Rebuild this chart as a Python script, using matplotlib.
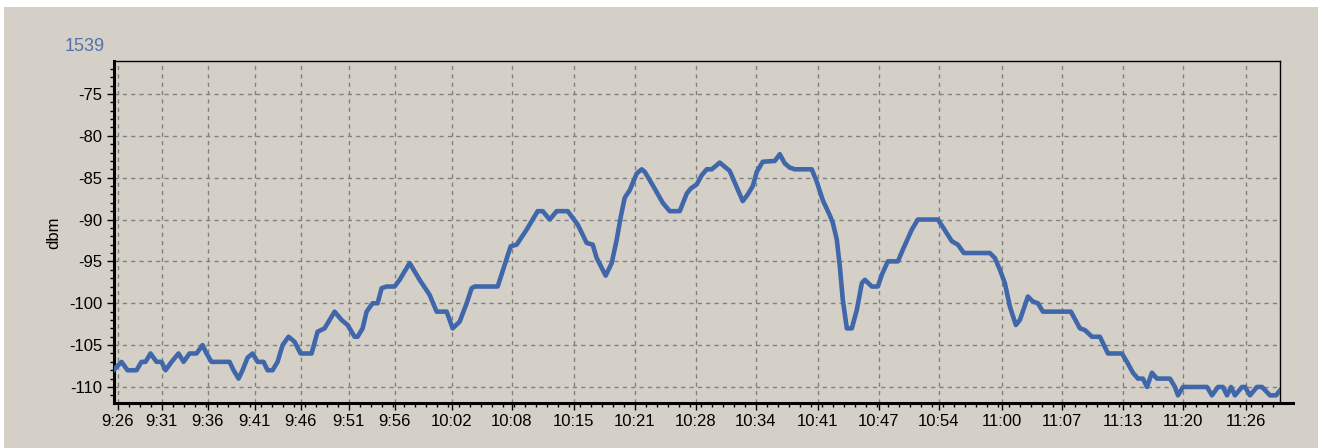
import matplotlib
matplotlib.use("Agg")
import matplotlib.pyplot as plt
from matplotlib.patches import Rectangle
from matplotlib.ticker import MultipleLocator, AutoMinorLocator

plt.rcParams['font.family'] = ['Liberation Sans', 'DejaVu Sans']
plt.rcParams['axes.unicode_minus'] = False

# data: sample index along the time axis, signal level in dbm
sample = [0, 8, 14, 23, 28, 32, 37, 43, 48, 52, 58, 65, 70, 76, 83, 89, 93, 98, 116, 120,
          125, 129, 134, 139, 144, 150, 154, 159, 164, 169, 175, 181, 187, 198, 204, 211, 221, 228, 234, 241,
          244, 249, 253, 259, 264, 268, 273, 281, 286, 296, 306, 316, 323, 333, 336, 339, 346, 353, 358, 361,
          384, 391, 397, 403, 413, 424, 429, 436, 443, 454, 464, 473, 479, 483, 492, 498, 503, 507, 511, 516,
          523, 528, 531, 538, 549, 556, 566, 573, 577, 583, 588, 593, 598, 606, 611, 616, 621, 629, 634, 639,
          643, 649, 661, 666, 671, 676, 681, 698, 703, 709, 716, 719, 723, 726, 729, 733, 738, 743, 748, 751,
          758, 764, 768, 774, 784, 789, 798, 804, 824, 829, 838, 844, 850, 876, 881, 886, 891, 896, 902, 906,
          914, 919, 924, 929, 957, 966, 971, 978, 986, 994, 1008, 1013, 1019, 1024, 1029, 1033, 1038, 1043, 1056, 1061,
          1064, 1069, 1093, 1098, 1104, 1109, 1113, 1117, 1121, 1128, 1131, 1136, 1143, 1148, 1156, 1162, 1166]
dbm = [-108, -107, -108, -108, -107, -107, -106, -107, -107, -108, -107, -106, -107, -106, -106, -105, -106, -107, -107, -108,
       -109, -108, -106.5, -106, -107, -107, -108, -108, -107, -105, -104, -104.6, -106, -106, -103.4, -103, -101, -102, -102.6, -104,
       -104, -103, -101, -100, -100, -98.2, -98, -98, -97.2, -95.2, -97.2, -99, -101, -101, -102, -103, -102.2, -100, -98.2, -98,
       -98, -95.4, -93.2, -93, -91.2, -89, -89, -90, -89, -89, -90.6, -92.8, -93, -94.6, -96.7, -95.2, -92.4, -89.7, -87.4, -86.5,
       -84.5, -84, -84.3, -85.7, -88, -89, -89, -86.9, -86.3, -85.8, -84.7, -84, -84, -83.2, -83.7, -84.2, -85.6, -87.8, -87, -86,
       -84.3, -83.1, -83, -82.2, -83.3, -83.8, -84, -84, -85.5, -87.7, -89.5, -90.4, -92.4, -95.6, -99.6, -103, -103, -100.8, -97.6, -97.2,
       -98, -98, -96.6, -95, -95, -93.6, -91.2, -90, -90, -90.9, -92.6, -93, -94, -94, -94.6, -96, -97.6, -100.4, -102.6, -102,
       -99.2, -99.8, -100, -101, -101, -103, -103.2, -104, -104, -106, -106, -107, -108.3, -109, -109, -110, -108.3, -109, -109, -110,
       -111, -110, -110, -111, -110, -110, -111, -110, -111, -110, -110, -111, -110, -110, -111, -111, -110.4]

tick_pos = [4, 48, 94, 141, 187, 235, 281, 338, 398, 460, 521, 582, 642, 704, 765, 825, 888, 948, 1009, 1069, 1132]
tick_lab = ['9:26', '9:31', '9:36', '9:41', '9:46', '9:51', '9:56', '10:02', '10:08', '10:15', '10:21',
            '10:28', '10:34', '10:41', '10:47', '10:54', '11:00', '11:07', '11:13', '11:20', '11:26']

bg = '#d4d0c8'
fig = plt.figure(figsize=(13.23, 4.48), dpi=100, facecolor='white')
fig.patches.append(Rectangle((4 / 1323, 0), 1314 / 1323, 441 / 448, transform=fig.transFigure,
                             facecolor=bg, edgecolor='none', zorder=-10))
ax = fig.add_axes([113.5 / 1323, 44.7 / 448, (1280 - 113.5) / 1323, (403.3 - 61.3) / 448])
ax.set_facecolor(bg)

ax.plot(sample, dbm, color='#4067aa', lw=3.3, solid_joinstyle='round', zorder=3)

ax.set_xlim(0, 1166)
ax.set_ylim(-111.95, -71.1)
ax.set_xticks(tick_pos)
ax.set_xticklabels(tick_lab)
ax.xaxis.set_minor_locator(AutoMinorLocator(4))
ax.yaxis.set_major_locator(MultipleLocator(5))
ax.yaxis.set_minor_locator(MultipleLocator(1))
ax.tick_params(axis='both', which='major', direction='out', length=5, width=1, labelsize=12, pad=3)
ax.tick_params(axis='both', which='minor', direction='out', length=3, width=1)

ax.grid(True, which='major', color='#808080', linestyle=(0, (3, 3)), linewidth=1)

for s in ['top', 'right']:
    ax.spines[s].set_linewidth(1)
for s in ['left', 'bottom']:
    ax.spines[s].set_linewidth(2.2)
ax.spines['bottom'].set_bounds(0, 1179)

ax.set_ylabel('dbm', fontsize=12, labelpad=6)
fig.text(65 / 1323, 1 - 46.5 / 448, '1539', color='#5470ad', fontsize=13, va='center', ha='left')

fig.savefig('out.png', dpi=100, facecolor=fig.get_facecolor())
